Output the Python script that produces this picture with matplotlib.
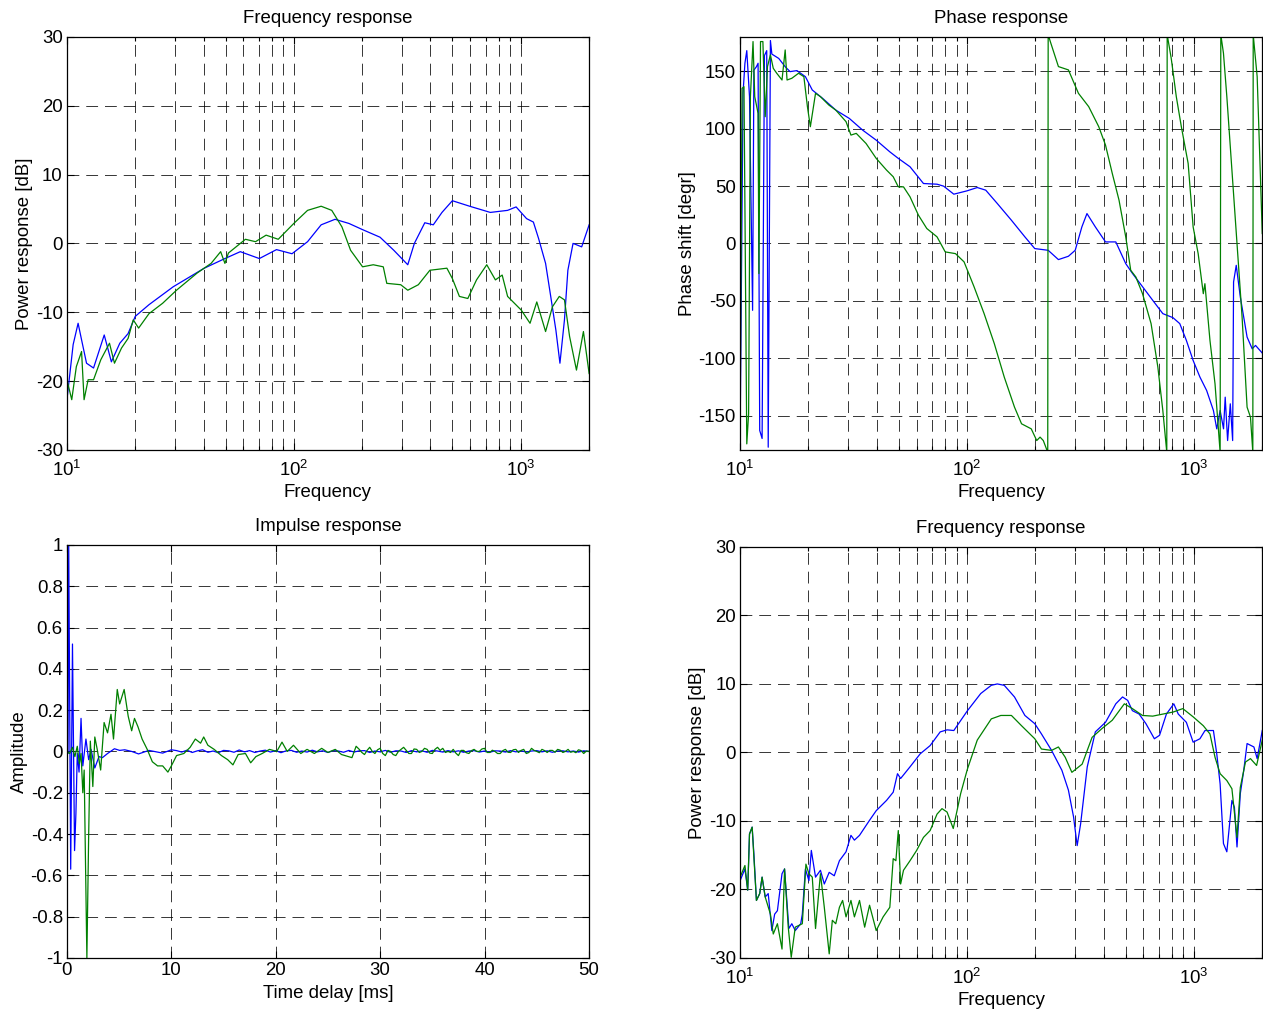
import numpy as np
import matplotlib
matplotlib.use("Agg")
import matplotlib.pyplot as plt
from matplotlib.ticker import FixedLocator, LogLocator, FuncFormatter, NullFormatter

plt.rcParams['font.family'] = ['Liberation Sans', 'DejaVu Sans']
plt.rcParams['mathtext.fontset'] = 'custom'
plt.rcParams['mathtext.rm'] = 'Liberation Sans'
plt.rcParams['axes.unicode_minus'] = False
plt.rcParams['lines.scale_dashes'] = False
plt.rcParams['font.size'] = 13.4
plt.rcParams['axes.titlesize'] = 13.4

BLUE = (0, 0, 1)
GREEN = (0, 0.5, 0)

# ---------------- data: top-left, frequency response ----------------
tl_blue_f = [10.0, 10.65, 11.2, 11.6, 12.2, 13.1, 14.6, 15.7, 17.1, 18.6, 20.0, 23.0, 29.4, 40.3,
             49.7, 58.1, 70.5, 83.9, 98.2, 115, 132, 152, 175, 201, 240, 276, 318, 340, 378, 412,
             450, 500, 596, 735, 876, 955, 1062, 1138, 1200, 1288, 1357, 1430, 1490, 1560, 1615,
             1702, 1858, 2004]
tl_blue_db = [-22.7, -14.7, -11.6, -14.0, -17.4, -18.1, -13.3, -17.2, -14.5, -13.1, -10.6, -8.9,
              -6.3, -3.6, -2.2, -1.2, -2.2, -0.9, -1.5, 0.25, 2.7, 3.5, 2.9, 2.0, 0.9, -1.0, -3.1,
              0.0, 3.0, 2.7, 4.5, 6.2, 5.4, 4.5, 4.8, 5.3, 3.6, 3.1, 0.7, -2.9, -7.7, -12.6, -17.4,
              -11.1, -3.9, 0.0, -0.5, 2.7]
tl_green_f = [10.0, 10.5, 11.0, 11.6, 11.9, 12.4, 13.1, 14.1, 15.4, 16.2, 17.4, 18.6, 19.6, 20.7,
              23.0, 26.4, 30.4, 37.5, 43.2, 47.6, 49.7, 51.5, 61.2, 67.8, 75.5, 85.4, 100, 115,
              132, 147, 163, 178, 201, 224, 248, 257, 296, 318, 354, 398, 473, 500, 537, 585, 639,
              709, 774, 829, 876, 1007, 1100, 1178, 1288, 1381, 1480, 1560, 1643, 1762, 1891, 2004]
tl_green_db = [-19.8, -22.7, -17.9, -15.7, -22.7, -19.8, -19.8, -16.9, -14.5, -17.4, -15.2, -13.8,
               -11.1, -12.3, -10.2, -8.7, -6.8, -4.3, -2.9, -1.2, -2.9, -1.4, 0.6, 0.25, 1.2, 0.6,
               2.9, 4.8, 5.4, 4.8, 2.4, -1.0, -3.4, -3.1, -3.4, -5.8, -6.0, -6.8, -6.0, -3.9, -3.6,
               -5.1, -7.7, -8.0, -5.3, -3.1, -5.3, -4.6, -7.7, -9.7, -11.6, -8.5, -12.8, -9.2, -7.7,
               -8.2, -13.5, -18.4, -12.8, -18.9]

# ---------------- data: top-right, phase response ----------------
tr_blue_f = [10.0, 10.3, 10.5, 10.7, 11.0, 11.35, 11.5, 11.8, 12.0, 12.2, 12.5, 12.8, 13.1, 13.3,
             13.6, 13.8, 14.8, 15.8, 16.6, 17.8, 19.4, 20.8, 23.1, 26.4, 30.3, 34.7, 39.8, 45.7,
             49.8, 56.1, 64.3, 73.8, 78.9, 87.5, 100, 111, 121, 136, 157, 180, 199, 228, 253, 280,
             300, 321, 338, 368, 408, 453, 501, 537, 595, 659, 730, 809, 867, 927, 993, 1064, 1139,
             1220, 1262, 1306, 1352, 1375, 1409, 1448, 1483, 1497, 1538, 1603, 1717, 1808, 1871,
             2004]
tr_blue_deg = [-166, 130.8, 157, 168, 127.9, -58.3, 151, 154, 157, -163, -170, 163.7, 168, -177.6,
               176.8, 165, 161.2, 154, 149.7, 150.6, 145.3, 133.7, 126.4, 116.2, 108.9, 98.7,
               90.0, 79.8, 74.1, 66.8, 52.2, 51.6, 49.9, 42.9, 45.8, 48.7, 46.4, 34.8, 20.2, 5.7,
               -4.5, -6.0, -14.1, -11.2, -6.0, 14.4, 26.0, 14.4, 1.3, 1.3, -17.6, -26.3, -37.9,
               -49.6, -61.2, -64.7, -69.9, -84.5, -102, -116.5, -128.2, -145.6, -161.6, -145.6,
               -161.6, -134, -171.8, -139.8, -171.8, -33.6, -19.1, -46.7, -81.6, -91.8, -88.9,
               -95.6]
tr_green_f = [10.0, 10.2, 10.4, 10.7, 10.9, 11.1, 11.4, 11.6, 12.0, 12.1, 12.3, 12.6, 12.9, 13.2,
              13.6, 14.0, 14.5, 15.3, 15.8, 16.1, 16.9, 18.1, 19.1, 19.8, 20.4, 21.5, 22.6, 24.6,
              26.4, 29.3, 30.8, 32.5, 35.9, 39.8, 44.2, 47.3, 49.8, 52.5, 56.1, 61.1, 66.5, 73.8,
              80.2, 89.0, 97.1, 107.5, 119, 132, 146, 162, 174, 192, 203, 210, 217, 227, 228, 233,
              253, 280, 310, 344, 381, 408, 437, 468, 501, 527, 555, 594, 648, 694, 730, 760, 763,
              795, 837, 881, 944, 993, 1045, 1101, 1119, 1178, 1240, 1306, 1315, 1351, 1398, 1472,
              1550, 1632, 1717, 1777, 1820, 1827, 1902, 2003]
tr_green_deg = [-154.3, 135.1, 136.6, -174.7, -148.5, 127.9, 175.9, 127.9, 113.3, -26.3, 175.9,
                175.9, 110.4, 154.1, 164.3, 152.6, 148.3, 142.4, 168.6, 142.4, 143.9, 148.3, 145.3,
                119.2, 101.7, 130.8, 127.9, 120.6, 116.2, 106.1, 94.4, 95.9, 87.1, 74.1, 63.9,
                58.1, 49.3, 49.3, 40.6, 24.6, 13.0, 5.7, -7.4, -8.9, -16.1, -37.9, -61.2, -87.4,
                -116.5, -142.7, -157.2, -161.6, -171.8, -168.8, -171.8, -182, 182, 175.9, 154.1,
                151.2, 130.8, 119.2, 101.7, 85.7, 61.0, 37.7, 5.7, -23.4, -29.2, -43.8, -69.9,
                -107.7, -145.6, -182, 182, 161.3, 127.9, 101.7, 69.7, 14.4, -8.9, -43.8, -35.1,
                -84.6, -122.4, -182, 182, 165.7, 127.9, 63.9, -0.1, -64.1, -142.7, -151.4, -182,
                182, 145.3, 8.6]

# ---------------- data: bottom-left, impulse response ----------------
bl_blue_t = [0, 0.1, 0.17, 0.36, 0.53, 0.73, 0.86, 0.99, 1.16, 1.35, 1.52, 1.82, 2.08, 2.31, 2.67,
             3.07, 3.40, 3.89, 4.55, 5.05, 5.54, 6.2, 6.86, 7.85, 9.17, 10.0]
bl_blue_a = [0, -0.01, 1.0, -0.57, 0.52, -0.48, -0.30, -0.01, -0.10, 0.16, -0.07, 0.06, -0.04,
             0.01, -0.08, -0.025, -0.03, -0.01, 0.013, 0.005, 0.008, 0.0, -0.012, 0.005, -0.008,
             0.008]
bl_blue_tail = [0.004, -0.003, 0.006, -0.005, 0.003, 0.008, -0.004, 0.002, -0.006, 0.005, 0.003,
                -0.004, 0.007, -0.002, 0.004, -0.005, 0.002, 0.006, -0.003, 0.004, -0.006, 0.003,
                0.005, -0.004, 0.002, -0.003, 0.006, -0.002, 0.003, -0.005, 0.004, 0.002, -0.004,
                0.005, -0.003, 0.003, 0.004, -0.005, 0.002, -0.002, 0.005, -0.004, 0.003, 0.002,
                -0.005, 0.004, -0.002, 0.003, -0.004, 0.005, 0.002, -0.003, 0.004, -0.002, 0.003,
                -0.004, 0.002, 0.004, -0.003, 0.002, -0.004, 0.003, 0.002, -0.003, 0.004, -0.002,
                0.003, -0.003, 0.002, 0.004, -0.002, 0.003, -0.004, 0.002, 0.003, -0.002, 0.002,
                -0.003, 0.003, 0.0]
bl_green_t = [0, 0.26, 0.53, 0.76, 0.99, 1.19, 1.35, 1.52, 1.65, 1.91, 2.08, 2.24, 2.48, 2.67,
              2.9, 3.23, 3.56, 3.89, 4.22, 4.46, 4.82, 5.05, 5.48, 5.87, 6.2, 6.47, 6.8, 7.2, 7.69,
              8.18, 8.68, 9.17, 9.67, 10.0, 10.5, 11.2, 11.8, 12.3, 12.8, 13.1, 13.5, 14.1, 14.8,
              15.4, 15.9, 16.4, 17.1, 17.6, 18.1, 18.7, 19.4, 20.1, 20.6, 21.1, 21.7, 22.4, 23.0,
              23.7, 24.4, 25.0, 25.7, 26.3, 27.3, 27.7]
bl_green_a = [0, -0.01, 0.02, -0.025, 0.025, -0.06, -0.01, -0.2, -0.09, -1.0, -0.41, 0.05, -0.17,
              0.07, 0.01, -0.09, 0.14, 0.09, 0.18, 0.06, 0.30, 0.23, 0.30, 0.17, 0.10, 0.16, 0.12,
              0.06, 0.01, -0.05, -0.07, -0.07, -0.10, -0.07, -0.02, -0.01, 0.02, 0.06, 0.04, 0.07,
              0.03, 0.01, -0.02, -0.04, -0.065, -0.015, -0.01, -0.055, -0.025, -0.01, 0.01, 0.0,
              0.045, 0.0, 0.03, -0.01, 0.01, -0.01, 0.015, -0.005, 0.01, -0.015, -0.03, 0.025]
bl_green_tail = [0.01, -0.005, -0.015, 0.005, 0.02, 0.0, -0.01, 0.008, 0.015, -0.01, -0.02, 0.005,
                 0.0, -0.015, -0.02, 0.0, 0.01, 0.02, 0.005, -0.01, -0.01, 0.012, 0.01, -0.005,
                 0.0, 0.015, 0.01, -0.008, -0.01, 0.01, 0.02, 0.005, 0.015, -0.005, 0.0, -0.005,
                 0.01, -0.008, -0.02, 0.005, 0.005, -0.006, -0.01, 0.004, 0.01, 0.0, 0.0, 0.012,
                 0.015, -0.005, -0.005, 0.006, 0.0, -0.01, -0.01, 0.004, 0.01, -0.004, -0.005, 0.008,
                 0.01, -0.005, 0.005, 0.01, -0.01, -0.005, 0.015, 0.005, 0.0, -0.006, 0.01, 0.004,
                 -0.005, 0.005, 0.005, -0.004, 0.01, 0.006, -0.005, 0.0, 0.01, -0.004, 0.0, -0.006,
                 0.008, 0.004, -0.01, 0.002, 0.0]

# ---------------- data: bottom-right, frequency response ----------------
br_blue_f = [10.0, 10.5, 10.8, 11.0, 11.3, 11.5, 11.8, 12.2, 12.5, 12.9, 13.3, 13.8, 14.2, 14.6,
             15.3, 15.7, 16.4, 16.9, 17.5, 18.5, 18.8, 19.4, 20.1, 20.6, 21.5, 22.6, 23.5, 24.7,
             26.0, 27.4, 29.3, 30.8, 31.9, 33.6, 37.2, 39.8, 44.2, 47.3, 49.4, 51.0, 56.1, 62.2,
             68.8, 76.2, 81.7, 87.5, 100.5, 115, 128, 136, 146, 162, 180, 199, 213, 236, 262, 280,
             295, 306, 317, 339, 368, 408, 453, 485, 511, 536, 574, 615, 670, 706, 757, 816, 854,
             927, 993, 1064, 1120, 1220, 1262, 1306, 1351, 1398, 1472, 1510, 1550, 1603, 1660,
             1717, 1840, 1902, 2003]
br_blue_db = [-18.7, -17.0, -20.1, -11.9, -10.9, -14.8, -21.6, -20.6, -18.2, -21.1, -20.6, -26.0,
              -23.6, -23.1, -17.7, -17.0, -25.7, -25.0, -26.0, -25.0, -23.6, -17.0, -18.7, -14.3,
              -18.2, -17.2, -19.2, -17.5, -18.0, -15.8, -14.5, -12.1, -12.8, -12.1, -9.9, -8.5,
              -7.0, -5.8, -3.1, -3.8, -2.1, -0.2, 1.0, 3.0, 3.3, 3.2, 6.1, 8.6, 9.8, 10.0, 9.8,
              8.1, 5.4, 4.2, 2.7, 0.3, -2.6, -5.5, -9.4, -13.6, -10.4, -2.1, 3.0, 4.4, 7.1, 8.1,
              7.6, 6.1, 5.6, 4.2, 2.0, 2.5, 5.6, 7.1, 5.6, 4.4, 1.5, 2.0, 3.2, 3.2, -0.2, -4.6,
              -13.3, -14.5, -7.0, -8.0, -13.8, -6.0, -2.6, 1.3, 0.8, -0.9, 3.2]
br_green_f = [10.0, 10.5, 10.8, 11.0, 11.3, 11.5, 11.8, 12.2, 12.5, 12.9, 13.6, 14.0, 14.6, 15.3,
              15.7, 16.3, 16.8, 17.5, 18.8, 19.5, 20.1, 20.8, 21.5, 22.6, 23.5, 24.7, 25.5, 26.4,
              27.4, 28.3, 29.3, 30.8, 31.9, 33.6, 35.4, 37.2, 39.8, 42.7, 45.7, 47.3, 48.6, 49.8,
              51.0, 52.5, 56.1, 60.0, 64.3, 68.8, 73.8, 77.6, 81.7, 87.0, 93.8, 100.5, 111, 128,
              141, 157, 174, 199, 213, 236, 253, 271, 290, 322, 356, 394, 437, 494, 536, 594, 659,
              730, 811, 894, 993, 1101, 1178, 1240, 1306, 1398, 1472, 1550, 1603, 1689, 1777, 1891,
              2003]
br_green_db = [-18.2, -16.5, -20.1, -11.9, -10.9, -15.3, -21.6, -20.6, -18.2, -21.1, -23.6, -26.5,
               -25.0, -28.7, -17.0, -25.5, -29.9, -25.5, -25.0, -16.3, -17.7, -18.2, -25.7, -17.7,
               -22.6, -29.4, -24.5, -25.0, -22.6, -21.6, -24.0, -21.6, -24.0, -21.6, -25.5, -22.3,
               -26.0, -24.0, -22.6, -15.5, -15.8, -11.4, -19.2, -17.2, -15.8, -14.3, -12.4, -11.4,
               -9.0, -8.2, -8.7, -11.1, -6.0, -2.4, 1.8, 4.9, 5.4, 5.4, 3.9, 2.0, 0.5, 0.3, 0.8,
               -0.7, -2.9, -1.7, 2.2, 3.5, 4.7, 7.1, 6.4, 5.4, 5.3, 5.6, 5.9, 6.4, 5.2, 3.9, 2.7,
               -0.7, -3.1, -4.1, -5.3, -12.4, -5.1, -1.4, -0.9, -1.9, 1.8]

bl_blue_tail_t = np.arange(10.5, 50.01, 0.5)
bl_green_tail_t = np.arange(28.0, 50.01, 0.25)


def style(ax, logx):
    ax.grid(False)
    for s in ax.spines.values():
        s.set_linewidth(0.9)
    ax.tick_params(which='both', direction='in', top=True, right=True, width=0.8)
    ax.tick_params(which='major', length=5, pad=3)
    ax.tick_params(which='minor', length=3)
    gkw = dict(color='k', linewidth=0.55, linestyle=(0, (8.5, 5)))
    ax.yaxis.grid(True, which='major', **gkw)
    ax.xaxis.grid(True, which='major', **gkw)
    if logx:
        ax.set_xscale('log')
        ax.set_xlim(10, 2000)
        ax.xaxis.set_major_locator(LogLocator(base=10, numticks=10))
        ax.xaxis.set_minor_locator(LogLocator(base=10, subs=np.arange(2, 10), numticks=20))
        ax.xaxis.set_minor_formatter(NullFormatter())
        ax.xaxis.grid(True, which='minor', **gkw)
        ax.tick_params(axis='x', which='major', pad=7)
        ax.set_xlabel('Frequency', labelpad=3)


fig = plt.figure(figsize=(12.63, 10.10), dpi=100)
gfmt = FuncFormatter(lambda v, p: '%g' % (round(v, 6) + 0.0))

ax1 = fig.add_axes([0.053, 0.5545, 0.4133, 0.409])
ax1.plot(tl_blue_f, tl_blue_db, color=BLUE, lw=0.9)
ax1.plot(tl_green_f, tl_green_db, color=GREEN, lw=0.9)
style(ax1, True)
ax1.set_ylim(-30, 30)
ax1.yaxis.set_major_locator(FixedLocator(np.arange(-30, 31, 10)))
ax1.yaxis.set_major_formatter(gfmt)
ax1.set_ylabel('Power response [dB]', labelpad=2)
ax1.set_title('Frequency response', pad=10)

ax2 = fig.add_axes([0.586, 0.5545, 0.4133, 0.409])
ax2.plot(tr_blue_f, tr_blue_deg, color=BLUE, lw=0.9)
ax2.plot(tr_green_f, tr_green_deg, color=GREEN, lw=0.9)
style(ax2, True)
ax2.set_ylim(-180, 180)
ax2.yaxis.set_major_locator(FixedLocator(np.arange(-150, 151, 50)))
ax2.yaxis.set_major_formatter(gfmt)
ax2.set_ylabel('Phase shift [degr]', labelpad=2)
ax2.set_title('Phase response', pad=10)

ax3 = fig.add_axes([0.053, 0.0515, 0.4133, 0.409])
ax3.plot(list(bl_blue_t) + list(bl_blue_tail_t), bl_blue_a + bl_blue_tail, color=BLUE, lw=0.9)
ax3.plot(list(bl_green_t) + list(bl_green_tail_t), bl_green_a + bl_green_tail, color=GREEN, lw=0.9)
style(ax3, False)
ax3.set_xlim(0, 50)
ax3.set_ylim(-1, 1)
ax3.xaxis.set_major_locator(FixedLocator(np.arange(0, 51, 10)))
ax3.yaxis.set_major_locator(FixedLocator(np.round(np.arange(-1, 1.01, 0.2), 1)))
ax3.yaxis.set_major_formatter(gfmt)
ax3.xaxis.set_major_formatter(gfmt)
ax3.set_xlabel('Time delay [ms]', labelpad=4)
ax3.set_ylabel('Amplitude', labelpad=2)
ax3.set_title('Impulse response', pad=10)

ax4 = fig.add_axes([0.586, 0.0515, 0.4133, 0.407])
ax4.plot(br_blue_f, br_blue_db, color=BLUE, lw=0.9)
ax4.plot(br_green_f, br_green_db, color=GREEN, lw=0.9)
style(ax4, True)
ax4.set_ylim(-30, 30)
ax4.yaxis.set_major_locator(FixedLocator(np.arange(-30, 31, 10)))
ax4.yaxis.set_major_formatter(gfmt)
ax4.set_ylabel('Power response [dB]', labelpad=2)
ax4.set_title('Frequency response', pad=10)

fig.savefig('out.png', dpi=100)
